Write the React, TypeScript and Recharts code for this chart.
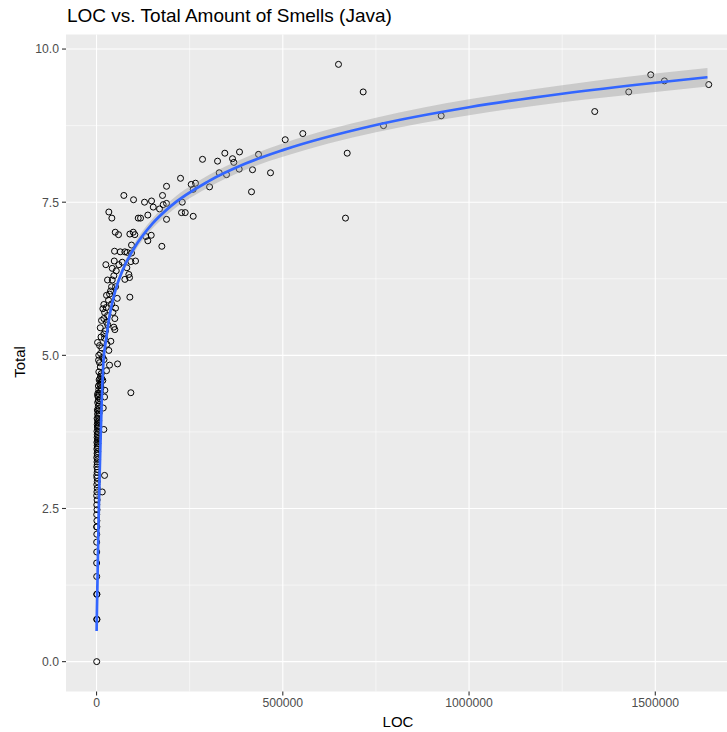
import { ComposedChart, Scatter, Line, Area, XAxis, YAxis, CartesianGrid } from "recharts";

// LOC vs total smells (log scale count)
const smellPoints: [number, number][] = [
  // sparse upper right
  [649500, 9.75], [715800, 9.3], [770300, 8.75], [925200, 8.91], [672900, 8.3], [668300, 7.24],
  [553700, 8.62], [506500, 8.52], [434800, 8.28], [383800, 8.32], [344400, 8.3], [324800, 8.17],
  [365000, 8.21], [368500, 8.15], [284500, 8.2], [329300, 7.98], [348900, 7.95], [383000, 8.04],
  [418700, 8.03], [467000, 7.98], [416000, 7.67], [303300, 7.75], [265700, 7.81], [254200, 7.79],
  [259500, 7.71], [225500, 7.89], [230000, 7.5], [238100, 7.33], [228100, 7.33], [259500, 7.27],
  [1337400, 8.98], [1428700, 9.3], [1487700, 9.58], [1524500, 9.48], [1643400, 9.42],
  // middle cluster
  [187900, 7.76], [177100, 7.61], [128800, 7.5], [147600, 7.52], [152200, 7.42], [169100, 7.39],
  [179000, 7.46], [187900, 7.48], [137700, 7.29], [118100, 7.24], [187900, 7.22], [146800, 6.96],
  [132300, 6.94], [137700, 6.87], [175300, 6.78], [73300, 7.61], [99300, 7.54], [33000, 7.34],
  [41100, 7.24], [111900, 7.24], [50200, 7.01], [59000, 6.97], [89400, 6.98], [98500, 7.01],
  [102800, 6.97], [93900, 6.8], [48300, 6.7], [63600, 6.69], [76000, 6.69], [82400, 6.68],
  [93900, 6.67], [25000, 6.48], [47500, 6.54], [69000, 6.52], [92100, 6.53], [104700, 6.54],
  [42100, 6.42], [52900, 6.38], [59900, 6.48], [81300, 6.43], [86700, 6.32], [88600, 6.27],
  [29500, 6.23], [42100, 6.23], [46400, 6.3], [76000, 6.24], [40300, 6.12], [51000, 6.12],
  // dense upper column
  [89400, 5.95], [37600, 6.05], [55600, 5.93], [19600, 5.83], [26000, 5.78], [40300, 5.84],
  [51000, 5.77], [16900, 5.76], [49100, 5.6], [19600, 5.6], [9900, 5.45], [46400, 5.46],
  [49100, 5.42], [19600, 5.35], [38400, 5.23], [2700, 5.21], [33000, 5.08], [10700, 5.03],
  [34900, 4.84], [56400, 4.86], [9900, 4.81], [6200, 4.73], [16900, 4.59], [10700, 4.51],
  [22300, 4.43], [92100, 4.39], [26800, 5.98], [32200, 5.9], [21500, 5.7], [29500, 5.65],
  [13400, 5.57], [26800, 5.54], [21500, 5.28], [8100, 5.16], [16100, 4.97], [5400, 4.92],
  [26800, 4.75], [10700, 4.66], [2700, 4.35], [5400, 4.26], [18000, 4.14], [12000, 5.3],
  [24000, 5.4], [30000, 5.5], [14000, 5.12], [6000, 5.0], [20000, 4.93], [28000, 5.18],
  [8000, 4.88], [44000, 5.7], [35000, 6.0], [12500, 4.7], [9000, 4.62],
  // lower column
  [900, 2.3], [400, 2.4], [1200, 2.48], [600, 2.56], [1500, 2.64], [300, 2.71], [15300, 2.77],
  [1000, 2.77], [1800, 2.83], [700, 2.89], [2000, 2.94], [1100, 3.0], [21500, 3.04], [500, 3.04],
  [1600, 3.09], [2400, 3.14], [800, 3.18], [1900, 3.22], [1300, 3.26], [2700, 3.3], [600, 3.33],
  [2100, 3.37], [1400, 3.4], [3000, 3.43], [900, 3.47], [2300, 3.5], [1700, 3.53], [3400, 3.56],
  [1000, 3.58], [2600, 3.61], [4000, 3.64], [1500, 3.66], [3200, 3.69], [2000, 3.71], [4500, 3.74],
  [1200, 3.76], [19600, 3.79], [3600, 3.81], [2400, 3.83], [5200, 3.85], [1800, 3.87], [4200, 3.89],
  [2900, 3.91], [6000, 3.93], [3300, 3.95], [1500, 3.97], [5000, 4.01], [2700, 4.04], [7000, 4.06],
  [3900, 4.09], [2200, 4.11], [6400, 4.13], [4600, 4.17], [8000, 4.2], [3000, 4.23], [5600, 4.26],
  [9000, 4.29], [21500, 4.32], [4200, 4.32], [7500, 4.36], [3500, 4.38], [10000, 4.41], [6000, 4.44],
  [12000, 4.47], [5000, 4.5], [8500, 4.53], [11500, 4.56], [7000, 4.6], [14000, 4.62],
  // bottom
  [400, 0], [500, 0.69], [1200, 0.69], [600, 1.1], [1000, 1.1], [400, 1.39], [300, 1.61],
  [500, 1.79], [300, 1.95], [600, 2.08], [400, 2.2], [800, 2.2],
];

// smoother (blue line) and its confidence band
const fitLoc = [200, 600, 1200, 1900, 3000, 4500, 6200, 8500, 10700, 14000, 18800, 25500, 35000, 51000, 70000, 100000, 150000, 200000, 300000, 400000, 500000, 750000, 1000000, 1250000, 1500000, 1640000];
const fitTotal = [0.5, 0.68, 0.9, 1.11, 1.5, 2.02, 2.52, 3.1, 3.61, 4.28, 4.92, 5.25, 5.65, 6.07, 6.39, 6.74, 7.15, 7.44, 7.84, 8.13, 8.35, 8.76, 9.05, 9.27, 9.45, 9.54];
const fitLow = [0.38, 0.57, 0.8, 1.03, 1.43, 1.95, 2.46, 3.04, 3.55, 4.22, 4.86, 5.19, 5.59, 6.01, 6.33, 6.67, 7.07, 7.35, 7.74, 8.03, 8.24, 8.64, 8.92, 9.13, 9.3, 9.39];
const fitHigh = [0.62, 0.79, 1.0, 1.19, 1.57, 2.09, 2.58, 3.16, 3.67, 4.34, 4.98, 5.31, 5.71, 6.13, 6.45, 6.81, 7.23, 7.53, 7.94, 8.23, 8.46, 8.88, 9.18, 9.41, 9.6, 9.69];

const xTicks = [0, 500000, 1000000, 1500000];
const xMinor = [250000, 750000, 1250000];
const yTicks = [0, 2.5, 5, 7.5, 10];
const yMinor = [1.25, 3.75, 6.25, 8.75];

const pointData = smellPoints.map(([loc, total]) => ({ loc, total }));
const fitData = fitLoc.map((loc, i) => ({ loc, fit: fitTotal[i], band: [fitLow[i], fitHigh[i]] }));

const font = '"Liberation Sans", Arial, Helvetica, sans-serif';
const tickStyle = { fill: "#4D4D4D", fontSize: 12.2, fontFamily: font };

const Hollow = (props: any) => (
  <circle cx={props.cx} cy={props.cy} r={3} fill="none" stroke="#000" strokeWidth={1} />
);

export default function App() {
  return (
    <div style={{ position: "absolute", left: 0, top: 0, width: 727, height: 732, overflow: "hidden", background: "#fff" }}>
      <ComposedChart width={740} height={732} data={fitData} margin={{ top: 34.5, right: 2, bottom: 0, left: 0 }}>
        <CartesianGrid fill="#EBEBEB" stroke="#FFFFFF" strokeWidth={0.55} horizontalValues={yMinor} verticalValues={xMinor} />
        <CartesianGrid stroke="#FFFFFF" strokeWidth={1.1} horizontalValues={yTicks} verticalValues={xTicks} />
        <XAxis
          type="number"
          dataKey="loc"
          domain={[-82000, 1722000]}
          ticks={xTicks}
          interval={0}
          allowDataOverflow
          axisLine={false}
          tickLine={{ stroke: "#333333", strokeWidth: 1.1 }}
          tickSize={4}
          tickMargin={3}
          tick={tickStyle}
          height={40.5}
        />
        <YAxis
          type="number"
          domain={[-0.4875, 10.2375]}
          ticks={yTicks}
          interval={0}
          allowDataOverflow
          axisLine={false}
          tickLine={{ stroke: "#333333", strokeWidth: 1.1 }}
          tickSize={4}
          tickMargin={3}
          tick={tickStyle}
          tickFormatter={(v: number) => v.toFixed(1)}
          width={66}
        />
        <Scatter data={pointData} dataKey="total" shape={Hollow} isAnimationActive={false} />
        <Area type="monotone" dataKey="band" fill="#999999" fillOpacity={0.4} stroke="none" isAnimationActive={false} zIndex={700} />
        <Line type="monotone" dataKey="fit" stroke="#3366FF" strokeWidth={2.7} dot={false} isAnimationActive={false} zIndex={800} />
      </ComposedChart>
      <svg width={727} height={732} style={{ position: "absolute", left: 0, top: 0, pointerEvents: "none" }}>
        <text x={67} y={22} fontSize={19} fontFamily={font} fill="#000">LOC vs. Total Amount of Smells (Java)</text>
        <text x={398} y={727} fontSize={15} fontFamily={font} fill="#000" textAnchor="middle">LOC</text>
        <text x={25} y={362} fontSize={15} fontFamily={font} fill="#000" textAnchor="middle" transform="rotate(-90 25 362)">Total</text>
      </svg>
    </div>
  );
}
